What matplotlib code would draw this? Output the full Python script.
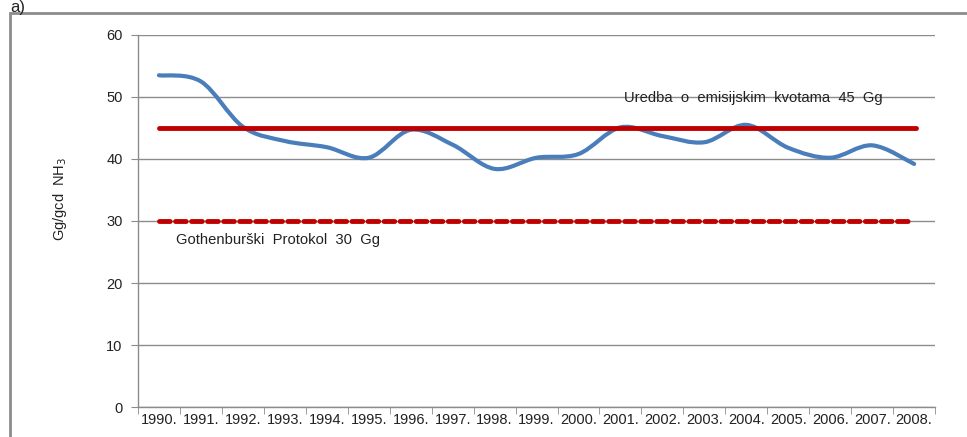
import numpy as np
import matplotlib
matplotlib.use('Agg')
import matplotlib.pyplot as plt
from matplotlib.path import Path
from matplotlib.patches import PathPatch, Rectangle

plt.rcParams['font.family'] = ['Liberation Sans', 'DejaVu Sans']

years = ['1990.', '1991.', '1992.', '1993.', '1994.', '1995.', '1996.', '1997.', '1998.', '1999.',
         '2000.', '2001.', '2002.', '2003.', '2004.', '2005.', '2006.', '2007.', '2008.']
emisija = [53.5, 52.5, 45.2, 42.9, 41.9, 40.2, 44.7, 42.3, 38.4, 40.2,
           40.8, 45.1, 43.7, 42.7, 45.5, 41.8, 40.2, 42.2, 39.2]
uredba = 45
gothenburg = 30

grey = '#8c8c8c'

def smooth_path(xs, ys, t=0.5):
    # bezier segments like Excel's smoothed line
    xs = np.asarray(xs, float); ys = np.asarray(ys, float)
    verts = [(xs[0], ys[0])]
    codes = [Path.MOVETO]
    n = len(xs)
    for i in range(n - 1):
        p0 = (xs[max(i - 1, 0)], ys[max(i - 1, 0)])
        p1 = (xs[i], ys[i])
        p2 = (xs[i + 1], ys[i + 1])
        p3 = (xs[min(i + 2, n - 1)], ys[min(i + 2, n - 1)])
        c1 = (p1[0] + (p2[0] - p0[0]) * t / 3, p1[1] + (p2[1] - p0[1]) * t / 3)
        c2 = (p2[0] - (p3[0] - p1[0]) * t / 3, p2[1] - (p3[1] - p1[1]) * t / 3)
        verts += [c1, c2, p2]
        codes += [Path.CURVE4] * 3
    return Path(verts, codes)

fig = plt.figure(figsize=(9.67, 4.37), dpi=100)
ax = fig.add_axes([0.1427, 0.0686, 0.8243, 0.8514])

x = np.arange(len(years))
ax.add_patch(PathPatch(smooth_path(x, emisija), fill=False, edgecolor='#4a7ebb',
                       lw=3, capstyle='round', zorder=3))
ax.plot([x[0], x[-1] + 0.05], [uredba, uredba], color='#c00000', lw=3.5,
        solid_capstyle='round', zorder=4)
ax.plot([x[0], x[-1] - 0.05], [gothenburg, gothenburg], color='#c00000', lw=3.5,
        dashes=(2.2, 1.1), dash_capstyle='round', zorder=4)

ax.text(11.08, 49.8, 'Uredba  o  emisijskim  kvotama  45  Gg', fontsize=10.6,
        color='#222222', va='center')
ax.text(0.4, 26.9, 'Gothenburški  Protokol  30  Gg', fontsize=10.6,
        color='#222222', va='center')

ax.set_xlim(-0.5, len(years) - 0.5)
ax.set_ylim(0, 60)
ax.set_yticks(range(0, 61, 10))
ax.set_xticks(x)
ax.set_xticklabels(years, fontsize=10.5, color='#222222')
ax.set_xticks(np.arange(-0.5, len(years), 1), minor=True)
ax.tick_params(axis='x', which='major', length=0, pad=4)
ax.tick_params(axis='x', which='minor', length=5, color=grey, direction='out')
ax.tick_params(axis='y', length=5, color=grey, labelsize=10.5, labelcolor='#222222', pad=6)
ax.yaxis.grid(True, color=grey, lw=1)
ax.set_axisbelow(True)
for s in ['top', 'right']:
    ax.spines[s].set_visible(False)
for s in ['left', 'bottom']:
    ax.spines[s].set_color(grey)
    ax.spines[s].set_linewidth(1)

ax.set_ylabel('Gg/gcd  NH$_3$', fontsize=10.5, color='#222222')
ax.yaxis.set_label_coords(-0.086, 0.56)

fig.patches.append(Rectangle((0.0105, -0.1), 1.1, 1.07, transform=fig.transFigure,
                             fill=False, edgecolor=grey, lw=2))
fig.text(0.011, 0.999, 'a)', fontsize=12, va='top', ha='left', color='#222222')

fig.savefig('out.png', dpi=100)
